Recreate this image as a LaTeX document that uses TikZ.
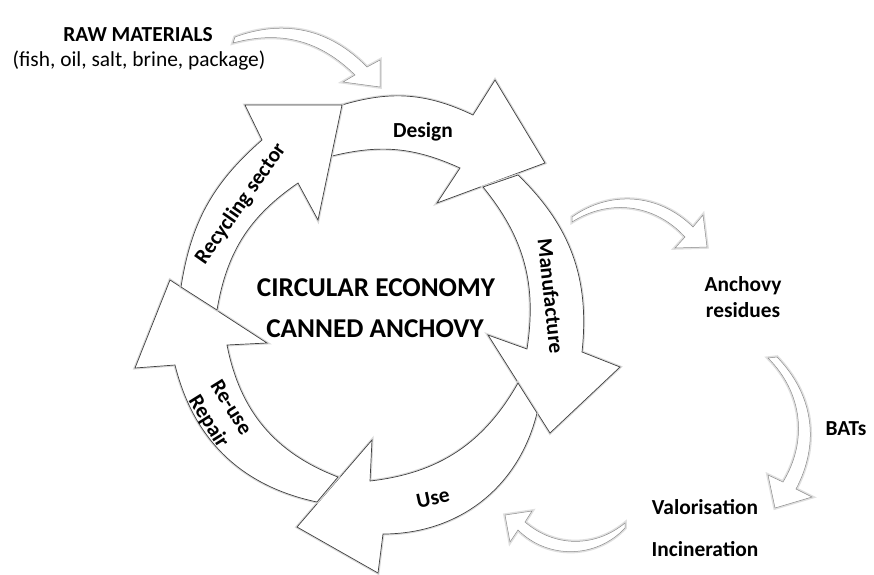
\documentclass[tikz,border=0pt]{standalone}
\usepackage{fontspec}
\setmainfont{Carlito}
\begin{document}
\begin{tikzpicture}[x=1pt, y=-1pt, every node/.style={font=\fontsize{21.4}{26.5}\selectfont\bfseries, inner sep=0pt}]
  \tikzstyle{band}=[draw=black!75, fill=white, line width=0.7pt, preaction={draw=black!15, line width=3pt}]
  \tikzstyle{hollow}=[draw=black!45, fill=white, line width=0.5pt, preaction={draw=black!12, line width=3.5pt}]
  \tikzstyle{big}=[font=\fontsize{27.2}{32}\selectfont\bfseries]
  \useasboundingbox (0,0) rectangle (874,574);
  % the cycle
  \draw[band] (342,105) to[bend left=21] (473,115) -- (495,80) -- (545,163) -- (437,203) -- (460,168) to[bend right=19] (332,156) -- cycle;
  \draw[band] (518,175) to[bend left=26] (582,352) -- (620,367) -- (550,433) -- (488,335) -- (527,349) to[bend right=24] (483,187) -- cycle;
  \draw[band] (537,413) to[bend left=38] (383,534) -- (378,573) -- (297,527) -- (372,440) -- (370,481) to[bend right=27] (518,383) -- cycle;
  \draw[band] (317,502) to[bend left=32] (175,365) -- (135,368) -- (170,280) -- (267,343) -- (227,345) to[bend right=29] (338,477) -- cycle;
  \draw[band] (181,287) to[bend left=20] (262,140) -- (245,105) -- (342,105) -- (318,220) -- (298,183) to[bend right=23] (217,310) -- cycle;
  % small arrows outside
  \draw[hollow] (235,37) to[bend left=33] (367,67) -- (380,60) -- (380,87) -- (343,82) -- (355,75) to[bend right=30] (233,43) -- cycle;
  \draw[hollow] (572,217) to[bend left=40] (693,227) -- (703,215) -- (707,247) -- (675,248) -- (685,237) to[bend right=40] (572,222) -- cycle;
  \draw[hollow] (777,357) to[bend left=36] (796,489) -- (812,497) -- (775,508) -- (768,475) -- (783,482) to[bend right=38] (768,358) -- cycle;
  \draw[hollow] (625,523) to[bend left=40] (525,522) -- (532,511) -- (505,515) -- (510,542) -- (518,530) to[bend right=46] (625,528) -- cycle;
  % labels
  \node (raw) at (138,35) {RAW MATERIALS};
  \node[font=\fontsize{21.4}{26.5}\selectfont] (rawlist) at (139,61) {(fish, oil, salt, brine, package)};
  \node (design) at (423,132) {Design};
  \node[rotate=-84] (manuf) at (551,296) {Manufacture};
  \node[rotate=12] (use) at (433,498) {Use};
  \node[rotate=-58, align=center] (reuse) at (219,415) {Re-use\\Repair};
  \node[rotate=55] (recyc) at (241,204) {Recycling sector};
  \node[big] (ce) at (376,288) {CIRCULAR ECONOMY};
  \node[big] (ca) at (375,329) {CANNED ANCHOVY};
  \node[align=center] (resid) at (743,297) {Anchovy\\residues};
  \node (bats) at (846,429) {BATs};
  \node (valor) at (705,507) {Valorisation};
  \node (incin) at (705,549) {Incineration};
\end{tikzpicture}
\end{document}
